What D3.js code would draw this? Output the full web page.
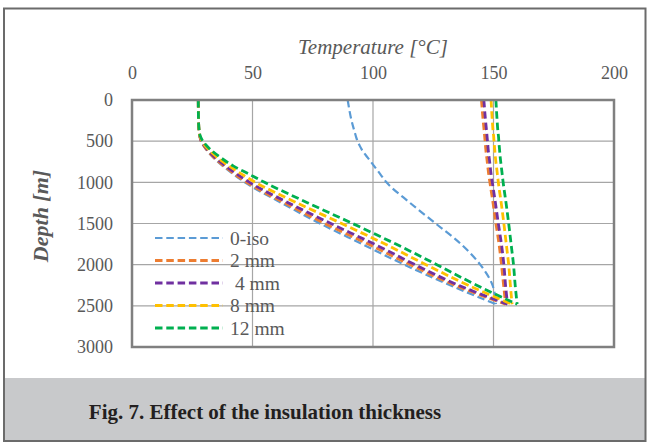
<!DOCTYPE html>
<html>
<head>
<meta charset="utf-8">
<script src="https://cdn.jsdelivr.net/npm/d3@7"></script>
<style>
  body { margin: 0; background: #fff; }
  svg text { font-family: "Liberation Serif", serif; }
</style>
</head>
<body>
<div id="canvas"></div>
<script>
// depth grid [m], shared by the down leg and the up leg
var depths = [0, 250, 400, 450, 500, 550, 600, 700, 800, 900, 1000, 1250, 1500, 1750, 2000, 2250, 2480];

// series names and colours (legend order)
var seriesNames = ["0-iso", "2 mm", " 4 mm", "8 mm", "12 mm"];
var seriesColors = ["#5b9bd5", "#ed7d31", "#7030a0", "#ffc000", "#00b050"];

// temperature going down [°C]
var downIso = [27.5, 27.6, 27.9, 28.2, 28.6, 29.5, 30.7, 33.8, 37.6, 42, 46.8, 62, 78, 95.5, 113, 132, 151];
var down2 = [27.5, 27.6, 27.9, 28.2, 28.7, 29.7, 30.9, 34.1, 38.1, 42.6, 47.6, 63.3, 80, 98, 115.5, 134, 155];
var down4 = [27.5, 27.6, 27.9, 28.2, 28.8, 29.9, 31.2, 34.6, 38.8, 43.6, 48.8, 65, 82.5, 100.5, 117.5, 135.5, 155.8];
var down8 = [27.5, 27.6, 27.9, 28.3, 29, 30.2, 31.7, 35.5, 40.2, 45.5, 51.2, 68.5, 87, 105, 122, 139.5, 157.7];
var down12 = [27.5, 27.6, 28, 28.5, 29.4, 30.8, 32.5, 36.8, 42, 48.5, 55, 73, 91.5, 109.5, 126.5, 143, 159.8];

// temperature coming back up [°C]
var upIso = [89.5, 91.1, 92.5, 93, 93.6, 94.4, 95.3, 97.8, 100.4, 103, 105.6, 115.4, 126, 136.5, 144.5, 149.6, 151];
var up2 = [145, 145.7, 146.2, 146.35, 146.5, 146.65, 146.8, 147.2, 147.6, 148, 148.5, 149.8, 151, 152.3, 153.3, 154.2, 155];
var up4 = [146, 146.7, 147.2, 147.35, 147.5, 147.65, 147.8, 148.2, 148.6, 149, 149.5, 150.8, 152, 153.3, 154.3, 155, 155.8];
var up8 = [149, 149.5, 149.9, 150.1, 150.2, 150.35, 150.5, 150.8, 151.2, 151.6, 152, 153.2, 154.3, 155.3, 156.3, 157, 157.7];
var up12 = [151, 151.5, 151.9, 152.1, 152.2, 152.35, 152.5, 152.8, 153.2, 153.6, 154, 155.2, 156.3, 157.3, 158.3, 159, 159.8];

var tempTicks = [0, 50, 100, 150, 200];
var depthTicks = [0, 500, 1000, 1500, 2000, 2500, 3000];

var downSeries = [downIso, down2, down4, down8, down12];
var upSeries = [upIso, up2, up4, up8, up12];

var W = 649, H = 444;
var serif = "'Liberation Serif', serif";
var svg = d3.select("#canvas").append("svg")
  .attr("width", W)
  .attr("height", H);

var x = d3.scaleLinear().domain([0, 200]).range([132, 614]);
var y = d3.scaleLinear().domain([0, 3000]).range([100, 347]);

// caption band
svg.append("rect")
  .attr("x", 3).attr("y", 378)
  .attr("width", 643).attr("height", 63)
  .attr("fill", "#c8c9cb");

// outer frame
svg.append("rect")
  .attr("x", 4).attr("y", 8.5)
  .attr("width", 641.5).attr("height", 432.5)
  .attr("fill", "none")
  .attr("stroke", "#6b6b6b")
  .attr("stroke-width", 2);

svg.append("text")
  .attr("x", 265).attr("y", 419)
  .attr("text-anchor", "middle")
  .attr("font-family", serif)
  .style("font-size", "21px")
  .style("font-weight", "bold")
  .attr("fill", "#231f20")
  .text("Fig. 7. Effect of the insulation thickness");

// gridlines
svg.append("g")
  .selectAll("line.v")
  .data(tempTicks.slice(1, -1))
  .enter().append("line")
  .attr("x1", function(d) { return x(d); })
  .attr("x2", function(d) { return x(d); })
  .attr("y1", y(0)).attr("y2", y(3000))
  .attr("stroke", "#a6a6a6").attr("stroke-width", 1.2);

svg.append("g")
  .selectAll("line.h")
  .data(depthTicks.slice(1, -1))
  .enter().append("line")
  .attr("x1", x(0)).attr("x2", x(200))
  .attr("y1", function(d) { return y(d); })
  .attr("y2", function(d) { return y(d); })
  .attr("stroke", "#a6a6a6").attr("stroke-width", 1.2);

// axes (labels only)
var xAxis = svg.append("g")
  .attr("transform", "translate(0," + 73 + ")")
  .call(d3.axisTop(x).tickValues(tempTicks).tickSize(0).tickPadding(0).tickFormat(d3.format("d")));
xAxis.attr("font-family", serif).attr("font-size", 18);
xAxis.select(".domain").remove();
xAxis.selectAll("text")
  .attr("dy", "0.35em")
  .attr("fill", "#595959");

var yAxis = svg.append("g")
  .attr("transform", "translate(" + 113 + ",0)")
  .call(d3.axisLeft(y).tickValues(depthTicks).tickSize(0).tickPadding(0).tickFormat(d3.format("d")));
yAxis.attr("font-family", serif).attr("font-size", 18);
yAxis.select(".domain").remove();
yAxis.selectAll("text")
  .attr("fill", "#595959");

// axis titles
svg.append("text")
  .attr("x", 373).attr("y", 54)
  .attr("text-anchor", "middle")
  .attr("font-family", serif)
  .style("font-size", "21px")
  .style("font-style", "italic")
  .attr("fill", "#595959")
  .text("Temperature [°C]");

svg.append("text")
  .attr("transform", "translate(48,216) rotate(-90)")
  .attr("text-anchor", "middle")
  .attr("font-family", serif)
  .style("font-size", "22px")
  .style("font-style", "italic")
  .style("font-weight", "bold")
  .attr("fill", "#595959")
  .text("Depth [m]");

// curves
var line = d3.line()
  .x(function(d) { return x(d[0]); })
  .y(function(d) { return y(d[1]); })
  .curve(d3.curveMonotoneY);

seriesNames.forEach(function(name, i) {
  var g = svg.append("g");
  [downSeries[i], upSeries[i]].forEach(function(vals) {
    g.append("path")
      .datum(vals.map(function(v, j) { return [v, depths[j]]; }))
      .attr("d", line)
      .attr("fill", "none")
      .attr("stroke", seriesColors[i])
      .attr("stroke-width", i === 0 ? 2.2 : 2.8)
      .attr("stroke-dasharray", "7.5,3.8");
  });
});

// plot border
svg.append("rect")
  .attr("x", x(0)).attr("y", y(0))
  .attr("width", x(200) - x(0)).attr("height", y(3000) - y(0))
  .attr("fill", "none")
  .attr("stroke", "#808080")
  .attr("stroke-width", 2.5);

// legend
var legend = svg.append("g")
  .selectAll("g")
  .data(seriesNames)
  .enter().append("g")
  .attr("transform", function(d, i) { return "translate(155," + (238 + i * 22.5) + ")"; });

legend.append("line")
  .attr("x1", 0).attr("x2", 68)
  .attr("stroke", function(d, i) { return seriesColors[i]; })
  .attr("stroke-width", function(d, i) { return i === 0 ? 2.2 : 2.8; })
  .attr("stroke-dasharray", "7.5,3.8");

legend.append("text")
  .attr("x", 75).attr("dy", "0.35em")
  .attr("font-family", serif)
  .style("font-size", "19.5px")
  .style("white-space", "pre")
  .attr("fill", "#595959")
  .text(function(d) { return d; });
</script>
</body>
</html>
